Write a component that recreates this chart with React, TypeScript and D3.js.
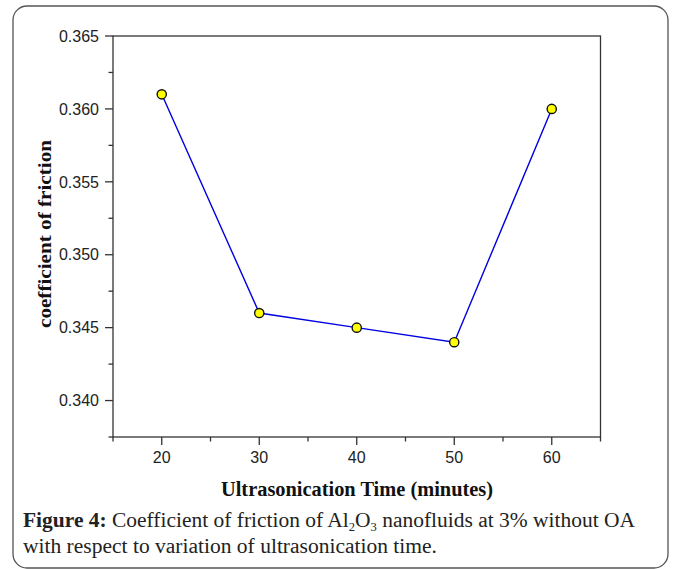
import React from "react";
import * as d3 from "d3";

const times = [20, 30, 40, 50, 60];
const friction = [0.361, 0.346, 0.345, 0.344, 0.36];
const xMajorTicks = [20, 30, 40, 50, 60];
const xMinorTicks = [15, 25, 35, 45, 55, 65];
const yMajorTicks = [0.34, 0.345, 0.35, 0.355, 0.36, 0.365];
const yMinorTicks = [0.3375, 0.3425, 0.3475, 0.3525, 0.3575, 0.3625];

const W = 673;
const H = 569;
const L = 113, R = 600.5, T = 36, B = 437;

export default function App() {
  const x = d3.scaleLinear().domain([15, 65]).range([L, R]);
  const y = d3.scaleLinear().domain([0.3375, 0.365]).range([B, T]);
  const line = d3.line<number>().x((_, i) => x(times[i])).y((d) => y(d));
  const axisColor = "#333";
  const tickFont = "'Liberation Sans', Arial, sans-serif";
  const serif = "'Liberation Serif', 'Times New Roman', serif";
  return (
    <svg width={W} height={H} style={{ position: "absolute", left: 0, top: 0 }}>
      <rect x={0} y={0} width={W} height={H} fill="#fff" />
      <rect x={13} y={6} width={655} height={562} rx={14} ry={14} fill="none" stroke="#555" strokeWidth={1.3} />
      {/* frame */}
      <rect x={L} y={T} width={R - L} height={B - T} fill="none" stroke={axisColor} strokeWidth={1.3} />
      {/* y ticks */}
      {yMajorTicks.map((t) => (
        <g key={"ym" + t}>
          <line x1={L - 8} x2={L} y1={y(t)} y2={y(t)} stroke={axisColor} strokeWidth={1.3} />
          <text x={L - 14} y={y(t)} dy="0.36em" textAnchor="end" fontFamily={tickFont} fontSize={16} fill="#222">
            {d3.format(".3f")(t)}
          </text>
        </g>
      ))}
      {yMinorTicks.map((t) => (
        <line key={"yn" + t} x1={L - 4.5} x2={L} y1={y(t)} y2={y(t)} stroke={axisColor} strokeWidth={1.3} />
      ))}
      {/* x ticks */}
      {xMajorTicks.map((t) => (
        <g key={"xm" + t}>
          <line x1={x(t)} x2={x(t)} y1={B} y2={B + 8} stroke={axisColor} strokeWidth={1.3} />
          <text x={x(t)} y={463} textAnchor="middle" fontFamily={tickFont} fontSize={16} fill="#222">
            {t}
          </text>
        </g>
      ))}
      {xMinorTicks.map((t) => (
        <line key={"xn" + t} x1={x(t)} x2={x(t)} y1={B} y2={B + 4.5} stroke={axisColor} strokeWidth={1.3} />
      ))}
      {/* data */}
      <path d={line(friction) || ""} fill="none" stroke="#0000e0" strokeWidth={1.4} />
      {friction.map((v, i) => (
        <circle key={i} cx={x(times[i])} cy={y(v)} r={4.6} fill="#ffff00" stroke="#111" strokeWidth={1.4} />
      ))}
      {/* axis titles */}
      <text x={221} y={496} fontFamily={serif} fontWeight="bold" fontSize={20} fill="#111" textLength={272} lengthAdjust="spacingAndGlyphs">
        Ultrasonication Time (minutes)
      </text>
      <text transform="translate(51,328) rotate(-90)" fontFamily={serif} fontWeight="bold" fontSize={19} fill="#111" textLength={188} lengthAdjust="spacingAndGlyphs">
        coefficient of friction
      </text>
      {/* caption */}
      <text x={23} y={527} fontFamily={serif} fontSize={20.5} fill="#222" textLength={612} lengthAdjust="spacingAndGlyphs">
        <tspan fontWeight="bold">Figure 4:</tspan>
        <tspan> Coefficient of friction of Al</tspan>
        <tspan fontSize={12} dy={4}>2</tspan>
        <tspan dy={-4}>O</tspan>
        <tspan fontSize={12} dy={4}>3</tspan>
        <tspan dy={-4}> nanofluids at 3% without OA</tspan>
      </text>
      <text x={23} y={553} fontFamily={serif} fontSize={20} fill="#222" textLength={414} lengthAdjust="spacingAndGlyphs">
        with respect to variation of ultrasonication time.
      </text>
    </svg>
  );
}
